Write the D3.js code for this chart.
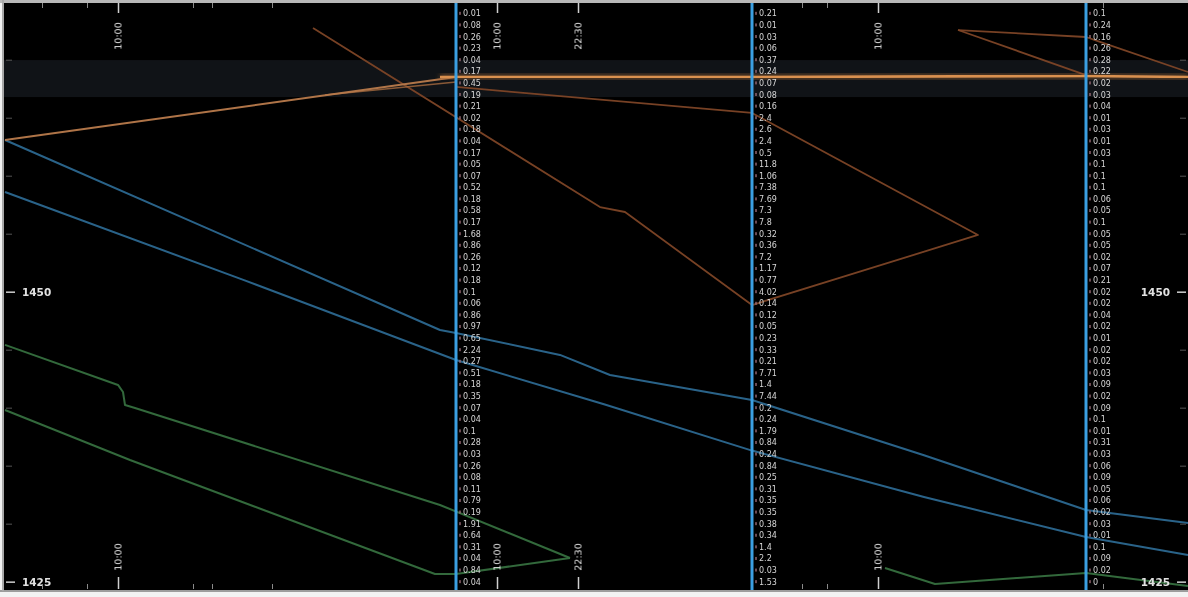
<!DOCTYPE html>
<html>
<head>
<meta charset="utf-8">
<script src="https://cdn.jsdelivr.net/npm/d3@7/dist/d3.min.js"></script>
<style>
  html, body { margin: 0; padding: 0; background: #f2f2f2; }
  svg { display: block; }
  text { font-family: "DejaVu Sans", "Liberation Sans", sans-serif; }
</style>
</head>
<body>
<svg id="chart" width="1188" height="597"></svg>
<script>
// ---- price range & session layout (bar index units) ----
const priceDomain = [1424.28, 1474.89];
const barDomain = [0, 296];
const sessionBreaks = [113, 187, 270.5];

// price ticks: labelled and minor
const priceLabels = [1450, 1425];
const priceMinor = [1470, 1465, 1460, 1455, 1445, 1440, 1435, 1430];

// time axis ticks
const timeMajorBars = [28.5, 123.25, 143.5, 218.5];
const timeMajorLabels = ["10:00", "10:00", "22:30", "10:00"];
const timeMinorBars = [9.5, 20.75, 47.25, 52, 67, 199.5, 205.75, 274.75];

// shaded value area
const bandLow = 1466.78;
const bandHigh = 1469.97;

// price series: [bar, price]
const blueUpper = [[0.25,1463.08],[109,1446.70],[113,1446.44],[139,1444.55],[151.5,1442.82],[187,1440.66],[230,1435.9],[270.5,1431.18],[296,1430.06]];
const blueLower = [[0.25,1458.59],[60,1451.0],[113,1444.11],[150,1440.3],[187,1436.3],[230,1432.3],[270.5,1428.85],[296,1427.30]];
const greenUpper = [[0.25,1445.41],[28.5,1441.96],[29.75,1441.35],[30.25,1440.23],[32.75,1439.97],[109,1431.61],[141.5,1427.04]];
const greenLower = [[0.25,1439.80],[31.5,1435.49],[107.75,1425.66],[113,1425.66],[141.5,1427.04]];
const greenRight = [[220.25,1426.18],[232.75,1424.80],[270.5,1425.75],[296,1424.63]];
const orangeRise = [[0.25,1463.08],[113,1468.51]];
const orangeFaint = [[80.25,1466.96],[113,1468.08]];
const orangeLevel = [[109,1468.51],[187,1468.51],[270.5,1468.60],[296,1468.51]];
const brownLoop = [[77.25,1472.73],[149,1457.30],[155.25,1456.87],[187,1448.85],[243.5,1454.89],[187,1465.41],[113,1467.65]];
const brownRightA = [[238.5,1472.56],[270.5,1471.96],[274,1471.53],[296,1468.94]];
const brownRightB = [[238.5,1472.56],[270.5,1468.68]];

// volume-at-price ladders, prices 1474 down to 1425
const ladderPrices = d3.range(1474, 1424, -1);
const ladder1 = [0.01,0.08,0.26,0.23,0.04,0.17,0.45,0.19,0.21,0.02,0.18,0.04,0.17,0.05,0.07,0.52,0.18,0.58,0.17,1.68,0.86,0.26,0.12,0.18,0.1,0.06,0.86,0.97,0.65,2.24,0.27,0.51,0.18,0.35,0.07,0.04,0.1,0.28,0.03,0.26,0.08,0.11,0.79,0.19,1.91,0.64,0.31,0.04,0.84,0.04];
const ladder2 = [0.21,0.01,0.03,0.06,0.37,0.24,0.07,0.08,0.16,2.4,2.6,2.4,0.5,11.8,1.06,7.38,7.69,7.3,7.8,0.32,0.36,7.2,1.17,0.77,4.02,0.14,0.12,0.05,0.23,0.33,0.21,7.71,1.4,7.44,0.2,0.24,1.79,0.84,0.24,0.84,0.25,0.31,0.35,0.35,0.38,0.34,1.4,2.2,0.03,1.53];
const ladder3 = [0.1,0.24,0.16,0.26,0.28,0.22,0.02,0.03,0.04,0.01,0.03,0.01,0.03,0.1,0.1,0.1,0.06,0.05,0.1,0.05,0.05,0.02,0.07,0.21,0.02,0.02,0.04,0.02,0.01,0.02,0.02,0.03,0.09,0.02,0.09,0.1,0.01,0.31,0.03,0.06,0.09,0.05,0.06,0.02,0.03,0.01,0.1,0.09,0.02,0];
const ladders = [ladder1, ladder2, ladder3];

// ---- drawing ----
const W = 1188, H = 597;
const plot = { left: 4, right: 1188, top: 3, bottom: 590 };

const svg = d3.select("#chart");
const x = d3.scaleLinear().domain(barDomain).range([plot.left, plot.right]);
const y = d3.scaleLinear().domain(priceDomain).range([plot.bottom, plot.top]);

const defs = svg.append("defs");
defs.append("filter").attr("id", "soft").attr("x", "-5%").attr("y", "-50%").attr("width", "110%").attr("height", "200%")
  .append("feGaussianBlur").attr("stdDeviation", 0.6);
defs.append("filter").attr("id", "glow").attr("x", "-5%").attr("y", "-200%").attr("width", "110%").attr("height", "500%")
  .append("feGaussianBlur").attr("stdDeviation", 2.5);
defs.append("clipPath").attr("id", "plotClip").append("rect")
  .attr("x", plot.left).attr("y", plot.top).attr("width", plot.right - plot.left).attr("height", plot.bottom - plot.top);

// frame
svg.append("rect").attr("x", 0).attr("y", 0).attr("width", W).attr("height", H).attr("fill", "#f2f2f2");
svg.append("rect").attr("x", plot.left).attr("y", plot.top).attr("width", plot.right - plot.left)
  .attr("height", plot.bottom - plot.top).attr("fill", "#000");
svg.append("line").attr("x1", 0).attr("x2", W).attr("y1", 1.5).attr("y2", 1.5).attr("stroke", "#b8b8b8").attr("stroke-width", 3);
svg.append("line").attr("x1", 0).attr("x2", W).attr("y1", 591).attr("y2", 591).attr("stroke", "#9c9c9c").attr("stroke-width", 2);
svg.append("line").attr("x1", 3).attr("x2", 3).attr("y1", 0).attr("y2", 591).attr("stroke", "#a8a8a8").attr("stroke-width", 2);

const g = svg.append("g").attr("clip-path", "url(#plotClip)");

// shaded band
g.append("rect").attr("x", plot.left).attr("width", plot.right - plot.left)
  .attr("y", y(bandHigh)).attr("height", y(bandLow) - y(bandHigh))
  .attr("fill", "#101317");

const line = d3.line().x(d => x(d[0])).y(d => y(d[1]));

function path(data, color, width, opacity, filter) {
  const p = g.append("path").datum(data).attr("d", line)
    .attr("fill", "none").attr("stroke", color).attr("stroke-width", width)
    .attr("stroke-opacity", opacity).attr("stroke-linejoin", "round");
  if (filter) p.attr("filter", filter);
  return p;
}

path(blueUpper, "#2d6890", 2, 0.95, "url(#soft)");
path(blueLower, "#2d6890", 2, 0.95, "url(#soft)");
path(greenUpper, "#356f3e", 2, 0.95, "url(#soft)");
path(greenLower, "#356f3e", 2, 0.95, "url(#soft)");
path(greenRight, "#356f3e", 2, 0.95, "url(#soft)");
path(brownLoop, "#7d4426", 1.8, 0.95, "url(#soft)");
path(brownRightA, "#7d4426", 1.8, 0.95, "url(#soft)");
path(brownRightB, "#7d4426", 1.8, 0.95, "url(#soft)");
path(orangeFaint, "#a86a3e", 1.6, 0.8, "url(#soft)");
path(orangeRise, "#b87a4c", 2, 0.95, "url(#soft)");
path(orangeLevel, "#c07a3c", 6, 0.45, "url(#glow)");
path(orangeLevel, "#d99050", 2.6, 1, "url(#soft)");

// session separators with ladders
sessionBreaks.forEach((b, i) => {
  const sx = x(b);
  const col = g.append("g");
  col.selectAll("rect.tick").data(ladderPrices).join("rect")
    .attr("x", sx + 3).attr("y", d => y(d) - 1.5).attr("width", 2).attr("height", 3)
    .attr("fill", "#9a6b78").attr("opacity", 0.7);
  col.selectAll("text").data(ladders[i]).join("text")
    .attr("x", sx + 7).attr("y", (d, k) => y(ladderPrices[k]) + 3)
    .attr("font-size", 8).attr("fill", "#d6d6d6")
    .attr("filter", "url(#soft)")
    .text(d => String(d));
  g.append("line").attr("x1", sx).attr("x2", sx).attr("y1", plot.top).attr("y2", plot.bottom)
    .attr("stroke", "#3b9fe2").attr("stroke-width", 3);
});

// price axes
const leftAxis = d3.axisRight(y).tickValues(priceLabels).tickSize(9).tickPadding(7).tickFormat(d3.format("d"));
const la = svg.append("g").attr("transform", `translate(${plot.left + 2},0)`).call(leftAxis);
const rightAxis = d3.axisLeft(y).tickValues(priceLabels).tickSize(9).tickPadding(7).tickFormat(d3.format("d"));
const ra = svg.append("g").attr("transform", `translate(${plot.right - 2},0)`).call(rightAxis);
[la, ra].forEach(a => {
  a.select(".domain").remove();
  a.selectAll("line").attr("stroke", "#cfcfcf").attr("stroke-width", 1.5);
  a.selectAll("text").attr("fill", "#e2e2e2").attr("font-size", 10.5).attr("font-weight", "bold")
    .attr("font-family", "\"Liberation Sans\", sans-serif").attr("filter", "url(#soft)");
});
const minorL = d3.axisRight(y).tickValues(priceMinor).tickSize(6).tickFormat("");
svg.append("g").attr("transform", `translate(${plot.left + 2},0)`).call(minorL)
  .call(a => { a.select(".domain").remove(); a.selectAll("line").attr("stroke", "#555"); });
const minorR = d3.axisLeft(y).tickValues(priceMinor).tickSize(6).tickFormat("");
svg.append("g").attr("transform", `translate(${plot.right - 2},0)`).call(minorR)
  .call(a => { a.select(".domain").remove(); a.selectAll("line").attr("stroke", "#555"); });

// time axes (top and bottom)
function timeAxis(top) {
  const yy = top ? plot.top : plot.bottom - 1;
  const minor = (top ? d3.axisBottom(x) : d3.axisTop(x)).tickValues(timeMinorBars).tickSize(5).tickFormat("");
  svg.append("g").attr("transform", `translate(0,${yy})`).call(minor)
    .call(a => { a.select(".domain").remove(); a.selectAll("line").attr("stroke", "#8a8a8a"); });
  const major = (top ? d3.axisBottom(x) : d3.axisTop(x)).tickValues(timeMajorBars).tickSize(top ? 10 : 12)
    .tickFormat((d, i) => timeMajorLabels[i]);
  const ax = svg.append("g").attr("transform", `translate(0,${yy})`).call(major);
  ax.select(".domain").remove();
  ax.selectAll("line").attr("stroke", "#cfcfcf").attr("stroke-width", 1.5);
  ax.selectAll("text")
    .attr("transform", top ? "translate(0,33) rotate(-90)" : "translate(0,-32) rotate(-90)")
    .attr("x", 0).attr("y", 0).attr("dy", "0.35em")
    .attr("text-anchor", "middle")
    .attr("fill", "#e0e0e0").attr("font-size", 9.5)
    .attr("filter", "url(#soft)");
}
timeAxis(true);
timeAxis(false);
</script>
</body>
</html>
